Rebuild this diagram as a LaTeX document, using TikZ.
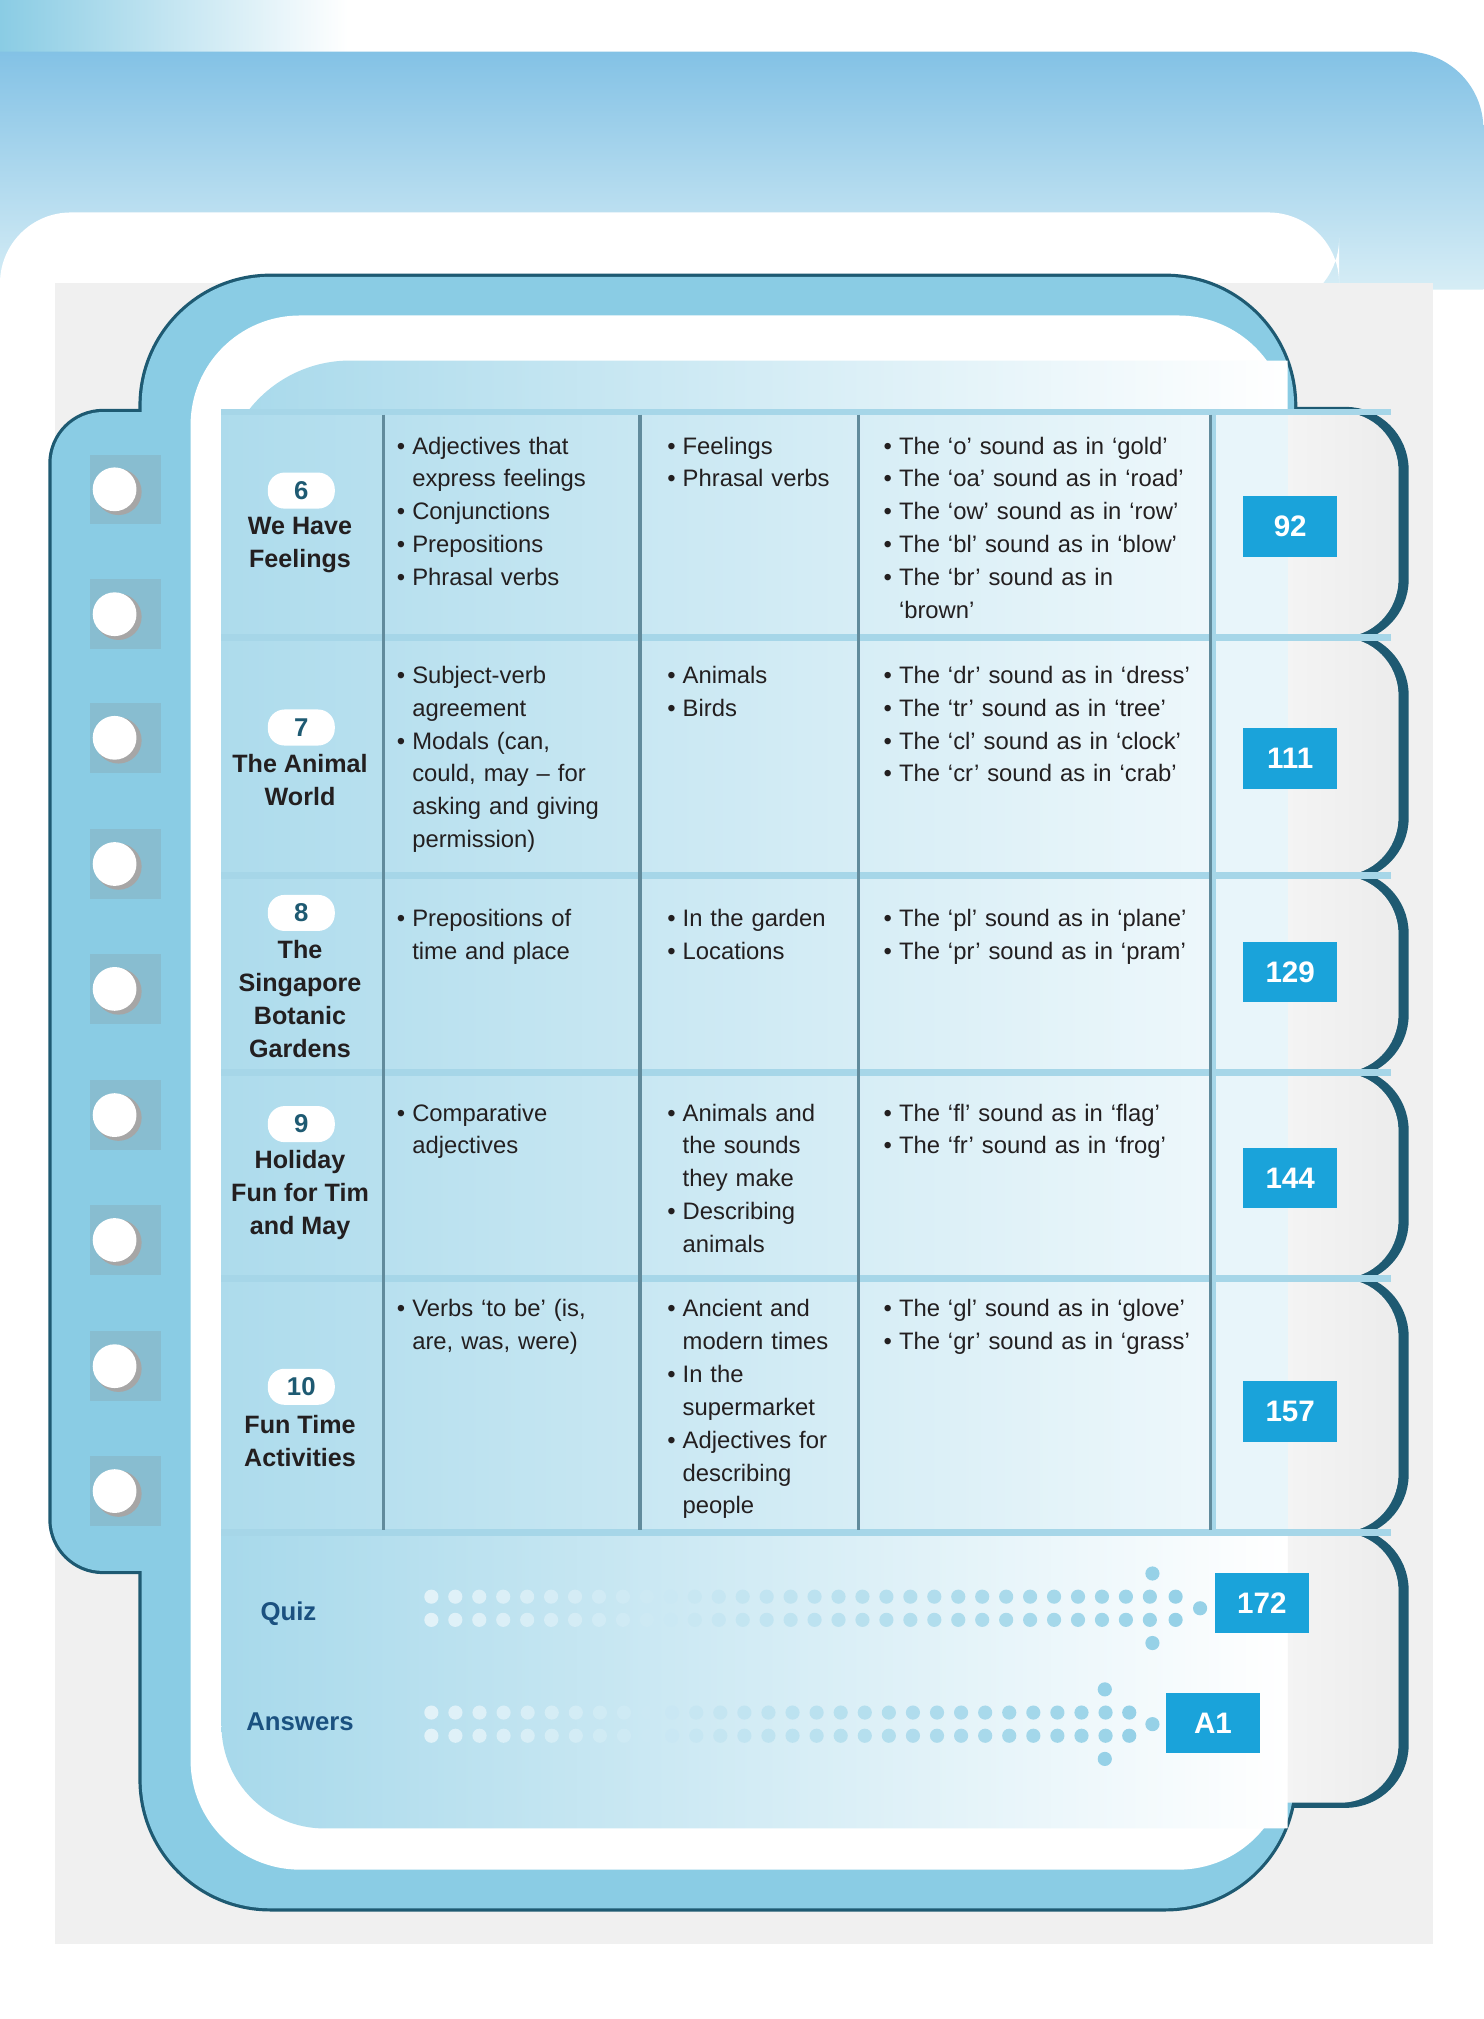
\documentclass[tikz,border=0pt]{standalone}
\usepackage{fontspec}
\setmainfont{Liberation Sans}
\begin{document}
\definecolor{dk}{HTML}{1E5A72}
\definecolor{bl}{HTML}{8ACCE4}
\definecolor{pg}{HTML}{1AA3DA}
\definecolor{tx}{HTML}{231F20}
\definecolor{ln}{HTML}{A6D6E8}
\newcommand{\bi}[1]{\par\noindent\makebox[12pt][l]{\textbullet}#1}
\newcommand{\nl}{\\\hspace*{12pt}}
\begin{tikzpicture}[x=1pt,y=-1pt,
  cell/.style={anchor=north west,inner sep=0pt,text=tx,font=\fontsize{18.5}{25.5}\selectfont,align=left},
  ttl/.style={text=tx,font=\bfseries\fontsize{19.5}{25.5}\selectfont,align=center,inner sep=0pt},
  badge/.style={fill=white,rounded corners=13,minimum width=52,minimum height=28,inner sep=0pt,text=dk,font=\bfseries\fontsize{20}{20}\selectfont},
  page/.style={fill=pg,minimum width=73,minimum height=47,inner sep=0pt,text=white,font=\bfseries\fontsize{23}{23}\selectfont},
  c2/.style={cell,text width=200},c3/.style={cell,text width=170},c4/.style={cell,text width=265}]
\useasboundingbox (0,0) rectangle (1152,1568);
\fill[white] (0,0) rectangle (1152,1568);
% top banner
\shade[left color=bl,right color=white] (0,0) rectangle (270,40);
\shade[top color=bl!95!blue,bottom color=bl!35] (0,225) -- (0,40) -- (1092,40) arc (-90:0:60) -- (1152,225) -- cycle;
\fill[white,rounded corners=55] (0,240) -- (0,165) -- (1040,165) -- (1040,240) [sharp corners]-- cycle;
\fill[white] (0,220) rectangle (43,1568);
\fill[gray!12] (43,220) rectangle (1113,1510);
% outer binder union
\foreach \a/\b in {320/495,495/680,680/833,833/993,993/1190,1190/1400}
  \draw[dk,line width=8,rounded corners=45] (880,\a) rectangle (1090,\b);
\draw[dk,line width=5,rounded corners=100] (110,215) rectangle (1005,1482);
\draw[dk,line width=5,rounded corners=40] (40,320) rectangle (200,1220);
\fill[bl,rounded corners=100] (110,215) rectangle (1005,1482);
\fill[bl,rounded corners=40] (40,320) rectangle (200,1220);
\foreach \a/\b in {320/495,495/680,680/833,833/993,993/1190,1190/1400}
  \shade[rounded corners=45,left color=white,right color=gray!15] (880,\a) rectangle (1086,\b);
% holes
\foreach \y in {380,477,573,671,768,866,963,1061,1158}{
  \fill[bl!80!gray] (70,\y-27) rectangle (125,\y+27);
  \fill[gray!70] (92,\y+2) circle (18);
  \fill[white] (89,\y) circle (17);}
% white inner band and panel
\fill[white,rounded corners=85] (148,245) rectangle (1000,1452);
\shade[left color=bl!75,right color=white] (1000,280) [rounded corners=100]-- (172,280) [rounded corners=80]-- (172,1420) [sharp corners]-- (1000,1420) -- cycle;
% table
\shade[left color=bl!70,right color=bl!15] (172,320) rectangle (940,1190);
\fill[white!80!bl] (940,320) rectangle (1000,1190);
\foreach \y in {320,495,680,833,993,1190}
  \draw[ln,line width=5] (172,\y) -- (1080,\y);
\foreach \x in {298,497,667,940}
  \draw[dk!70,line width=2.5] (\x,322) -- (\x,1188);
\draw[ln,line width=3] (943,322) -- (943,1188);
% row 1
\node[badge] (b6) at (234,381) {6};
\node[ttl] (t6) at (233,423) {We Have\\Feelings};
\node[c2] (c61) at (308,327) {\bi{Adjectives that\nl express feelings}\bi{Conjunctions}\bi{Prepositions}\bi{Phrasal verbs}};
\node[c3] (c62) at (518,327) {\bi{Feelings}\bi{Phrasal verbs}};
\node[c4] (c63) at (686,327) {\bi{The ‘o’ sound as in ‘gold’}\bi{The ‘oa’ sound as in ‘road’}\bi{The ‘ow’ sound as in ‘row’}\bi{The ‘bl’ sound as in ‘blow’}\bi{The ‘br’ sound as in\nl ‘brown’}};
\node[page] (p6) at (1002,409) {92};
% row 2
\node[badge] (b7) at (234,565) {7};
\node[ttl] (t7) at (233,606) {The Animal\\World};
\node[c2] (c71) at (308,505) {\bi{Subject-verb\nl agreement}\bi{Modals (can,\nl could, may – for\nl asking and giving\nl permission)}};
\node[c3] (c72) at (518,505) {\bi{Animals}\bi{Birds}};
\node[c4] (c73) at (686,505) {\bi{The ‘dr’ sound as in ‘dress’}\bi{The ‘tr’ sound as in ‘tree’}\bi{The ‘cl’ sound as in ‘clock’}\bi{The ‘cr’ sound as in ‘crab’}};
\node[page] (p7) at (1002,589) {111};
% row 3
\node[badge] (b8) at (234,709) {8};
\node[ttl] (t8) at (233,776) {The\\Singapore\\Botanic\\Gardens};
\node[c2] (c81) at (308,694) {\bi{Prepositions of\nl time and place}};
\node[c3] (c82) at (518,694) {\bi{In the garden}\bi{Locations}};
\node[c4] (c83) at (686,694) {\bi{The ‘pl’ sound as in ‘plane’}\bi{The ‘pr’ sound as in ‘pram’}};
\node[page] (p8) at (1002,755) {129};
% row 4
\node[badge] (b9) at (234,873) {9};
\node[ttl] (t9) at (233,928) {Holiday\\Fun for Tim\\and May};
\node[c2] (c91) at (308,845) {\bi{Comparative\nl adjectives}};
\node[c3] (c92) at (518,845) {\bi{Animals and\nl the sounds\nl they make}\bi{Describing\nl animals}};
\node[c4] (c93) at (686,845) {\bi{The ‘fl’ sound as in ‘flag’}\bi{The ‘fr’ sound as in ‘frog’}};
\node[page] (p9) at (1002,915) {144};
% row 5
\node[badge] (b10) at (234,1077) {10};
\node[ttl] (t10) at (233,1119) {Fun Time\\Activities};
\node[c2] (c101) at (308,997) {\bi{Verbs ‘to be’ (is,\nl are, was, were)}};
\node[c3] (c102) at (518,997) {\bi{Ancient and\nl modern times}\bi{In the\nl supermarket}\bi{Adjectives for\nl describing\nl people}};
\node[c4] (c103) at (686,997) {\bi{The ‘gl’ sound as in ‘glove’}\bi{The ‘gr’ sound as in ‘grass’}};
\node[page] (p10) at (1002,1096) {157};
% quiz / answers
\node[text=dk!90!blue,font=\bfseries\fontsize{20}{20}\selectfont] (quiz) at (224,1253) {Quiz};
\node[text=dk!90!blue,font=\bfseries\fontsize{20}{20}\selectfont] (ans) at (233,1337) {Answers};
\foreach \i in {0,...,30}{
  \pgfmathsetmacro{\c}{25+60*\i/30}
  \fill[bl!\c] (335+18.6*\i,1240) circle (5.5);
  \fill[bl!\c] (335+18.6*\i,1258) circle (5.5);}
\foreach \p in {(895,1222),(895,1276),(913,1240),(913,1258),(932,1249)} \fill[bl!90] \p circle (5.5);
\foreach \i in {0,...,28}{
  \pgfmathsetmacro{\c}{25+60*\i/28}
  \fill[bl!\c] (335+18.7*\i,1330) circle (5.5);
  \fill[bl!\c] (335+18.7*\i,1348) circle (5.5);}
\foreach \p in {(858,1312),(858,1366),(877,1330),(877,1348),(895,1339)} \fill[bl!90] \p circle (5.5);
\node[page] (pq) at (980,1245) {172};
\node[page] (pa) at (942,1338) {A1};
\end{tikzpicture}
\end{document}
